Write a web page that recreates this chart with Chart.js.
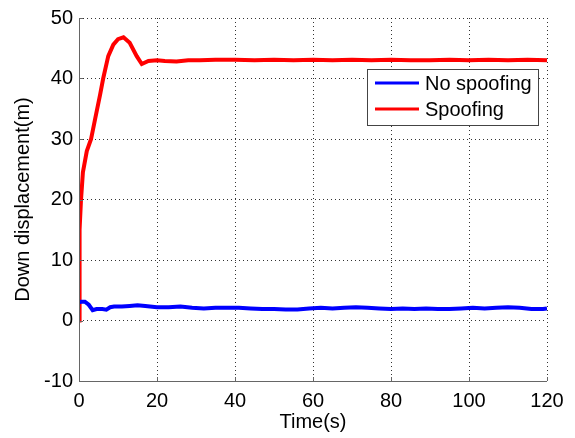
<!DOCTYPE html>
<html>
<head>
<meta charset="utf-8">
<script src="https://cdn.jsdelivr.net/npm/chart.js@4"></script>
<style>
  body { margin: 0; background: #fff; }
  #wrap { width: 575px; height: 438px; }
</style>
</head>
<body>
<div id="wrap"><canvas id="dispChart" width="575" height="438"></canvas></div>
<script>
// time (s) and down displacement (m)
const noSpoofT = [0, 0.5, 1.5, 2.5, 3.5, 4.5, 6, 7, 8, 9, 11, 13, 15, 17, 20, 23, 26, 29, 32, 35, 38, 41, 44, 47, 50, 53, 56, 59, 62, 65, 68, 71, 74, 77, 80, 83, 86, 89, 92, 95, 98, 101, 104, 107, 110, 113, 116, 119, 120];
const noSpoofV = [3.0, 3.1, 3.1, 2.6, 1.7, 1.9, 1.9, 1.8, 2.2, 2.3, 2.3, 2.4, 2.5, 2.4, 2.2, 2.2, 2.3, 2.1, 2.0, 2.1, 2.1, 2.1, 2.0, 1.9, 1.9, 1.8, 1.8, 2.0, 2.1, 2.0, 2.1, 2.2, 2.1, 2.0, 1.9, 2.0, 1.9, 2.0, 1.9, 1.9, 2.0, 2.1, 2.0, 2.1, 2.2, 2.1, 1.9, 1.9, 2.0];

const spoofT = [0, 0.15, 0.5, 1.0, 2, 3.1, 4.1, 5.4, 6.2, 7.5, 8.8, 10, 11.4, 13, 14.8, 16.1, 17.8, 20, 22, 25, 28, 31, 35, 40, 45, 50, 55, 60, 65, 70, 75, 80, 85, 90, 95, 100, 105, 110, 115, 120];
const spoofV = [0, 15, 19.8, 24.5, 28, 30, 33.2, 37.3, 40, 43.7, 45.6, 46.5, 46.8, 45.9, 43.7, 42.4, 42.9, 43.0, 42.9, 42.8, 43.0, 43.0, 43.1, 43.1, 43.0, 43.1, 43.0, 43.1, 43.0, 43.1, 43.0, 43.1, 43.0, 43.0, 43.1, 43.0, 43.1, 43.0, 43.1, 43.0];

const xTicks = [0, 20, 40, 60, 80, 100, 120];
const yTicks = [-10, 0, 10, 20, 30, 40, 50];
const seriesNames = ["No spoofing", "Spoofing"];

function toPoints(ts, vs) {
  let pts = [];
  for (let i = 0; i < ts.length; i++) pts.push({ x: ts[i], y: vs[i] });
  return pts;
}

const FONT = "'Liberation Sans', Arial, sans-serif";

// matlab style legend box inside the axes
const boxLegend = {
  id: "boxLegend",
  afterDraw(chart) {
    const ctx = chart.ctx;
    const x0 = 367, y0 = 69, w = 171, h = 56;
    ctx.save();
    ctx.fillStyle = "#fff";
    ctx.fillRect(x0, y0, w, h);
    ctx.strokeStyle = "#444";
    ctx.lineWidth = 1;
    ctx.strokeRect(x0 + 0.5, y0 + 0.5, w, h);
    chart.data.datasets.forEach(function (ds, i) {
      const y = 83 + i * 26;
      ctx.strokeStyle = ds.borderColor;
      ctx.lineWidth = 3;
      ctx.beginPath();
      ctx.moveTo(375, y);
      ctx.lineTo(419, y);
      ctx.stroke();
      ctx.fillStyle = "#000";
      ctx.font = "20px " + FONT;
      ctx.textBaseline = "middle";
      ctx.fillText(ds.label, 425, y + 1);
    });
    ctx.restore();
  },
};

// small inward tick marks on left and bottom axes, solid axis lines
const innerTicks = {
  id: "innerTicks",
  afterDatasetsDraw(chart) {
    const ctx = chart.ctx;
    const a = chart.chartArea;
    const xs = chart.scales.x, ys = chart.scales.y;
    ctx.save();
    ctx.setLineDash([]);
    ctx.strokeStyle = "#666";
    ctx.lineWidth = 1;
    ctx.beginPath();
    xTicks.forEach(function (t) {
      const px = Math.round(xs.getPixelForValue(t)) + 0.5;
      ctx.moveTo(px, a.bottom);
      ctx.lineTo(px, a.bottom - 4);
    });
    yTicks.forEach(function (t) {
      const py = Math.round(ys.getPixelForValue(t)) + 0.5;
      ctx.moveTo(a.left, py);
      ctx.lineTo(a.left + 4, py);
    });
    ctx.moveTo(a.left + 0.5, a.top);
    ctx.lineTo(a.left + 0.5, a.bottom + 0.5);
    ctx.lineTo(a.right, a.bottom + 0.5);
    ctx.stroke();
    ctx.restore();
  },
};

const data = {
  datasets: [
    {
      label: seriesNames[0],
      data: toPoints(noSpoofT, noSpoofV),
      borderColor: "#0000ff",
      borderWidth: 4,
      pointRadius: 0,
      tension: 0,
    },
    {
      label: seriesNames[1],
      data: toPoints(spoofT, spoofV),
      borderColor: "#ff0000",
      borderWidth: 4,
      pointRadius: 0,
      tension: 0,
    },
  ],
};

const config = {
  type: "line",
  data: data,
  plugins: [innerTicks, boxLegend],
  options: {
    responsive: false,
    animation: false,
    layout: { padding: { top: 15, right: 28, left: 0, bottom: 0 } },
    plugins: {
      legend: { display: false },
      tooltip: { enabled: false },
    },
    scales: {
      x: {
        type: "linear",
        min: 0,
        max: 120,
        afterBuildTicks: function (scale) {
          scale.ticks = xTicks.map(function (v) { return { value: v }; });
        },
        afterFit: function (scale) { scale.height = 57; },
        grid: { color: "rgba(0,0,0,0.8)", lineWidth: 1, drawTicks: false },
        border: { display: false, dash: [1, 3] },
        ticks: { color: "#000", padding: 8, font: { family: FONT, size: 20 } },
        title: {
          display: true,
          text: "Time(s)",
          color: "#000",
          font: { family: FONT, size: 20 },
          padding: { top: 0, bottom: 4 },
        },
      },
      y: {
        min: -10,
        max: 50,
        afterBuildTicks: function (scale) {
          scale.ticks = yTicks.map(function (v) { return { value: v }; });
        },
        afterFit: function (scale) { scale.width = 79; },
        grid: { color: "rgba(0,0,0,0.8)", lineWidth: 1, drawTicks: false },
        border: { display: false, dash: [1, 3] },
        ticks: { color: "#000", padding: 6, font: { family: FONT, size: 20 } },
        title: {
          display: true,
          text: "Down displacement(m)",
          color: "#000",
          font: { family: FONT, size: 20 },
          padding: { top: 11, bottom: 0 },
        },
      },
    },
  },
};

const dispChart = new Chart(document.getElementById("dispChart"), config);
</script>
</body>
</html>
